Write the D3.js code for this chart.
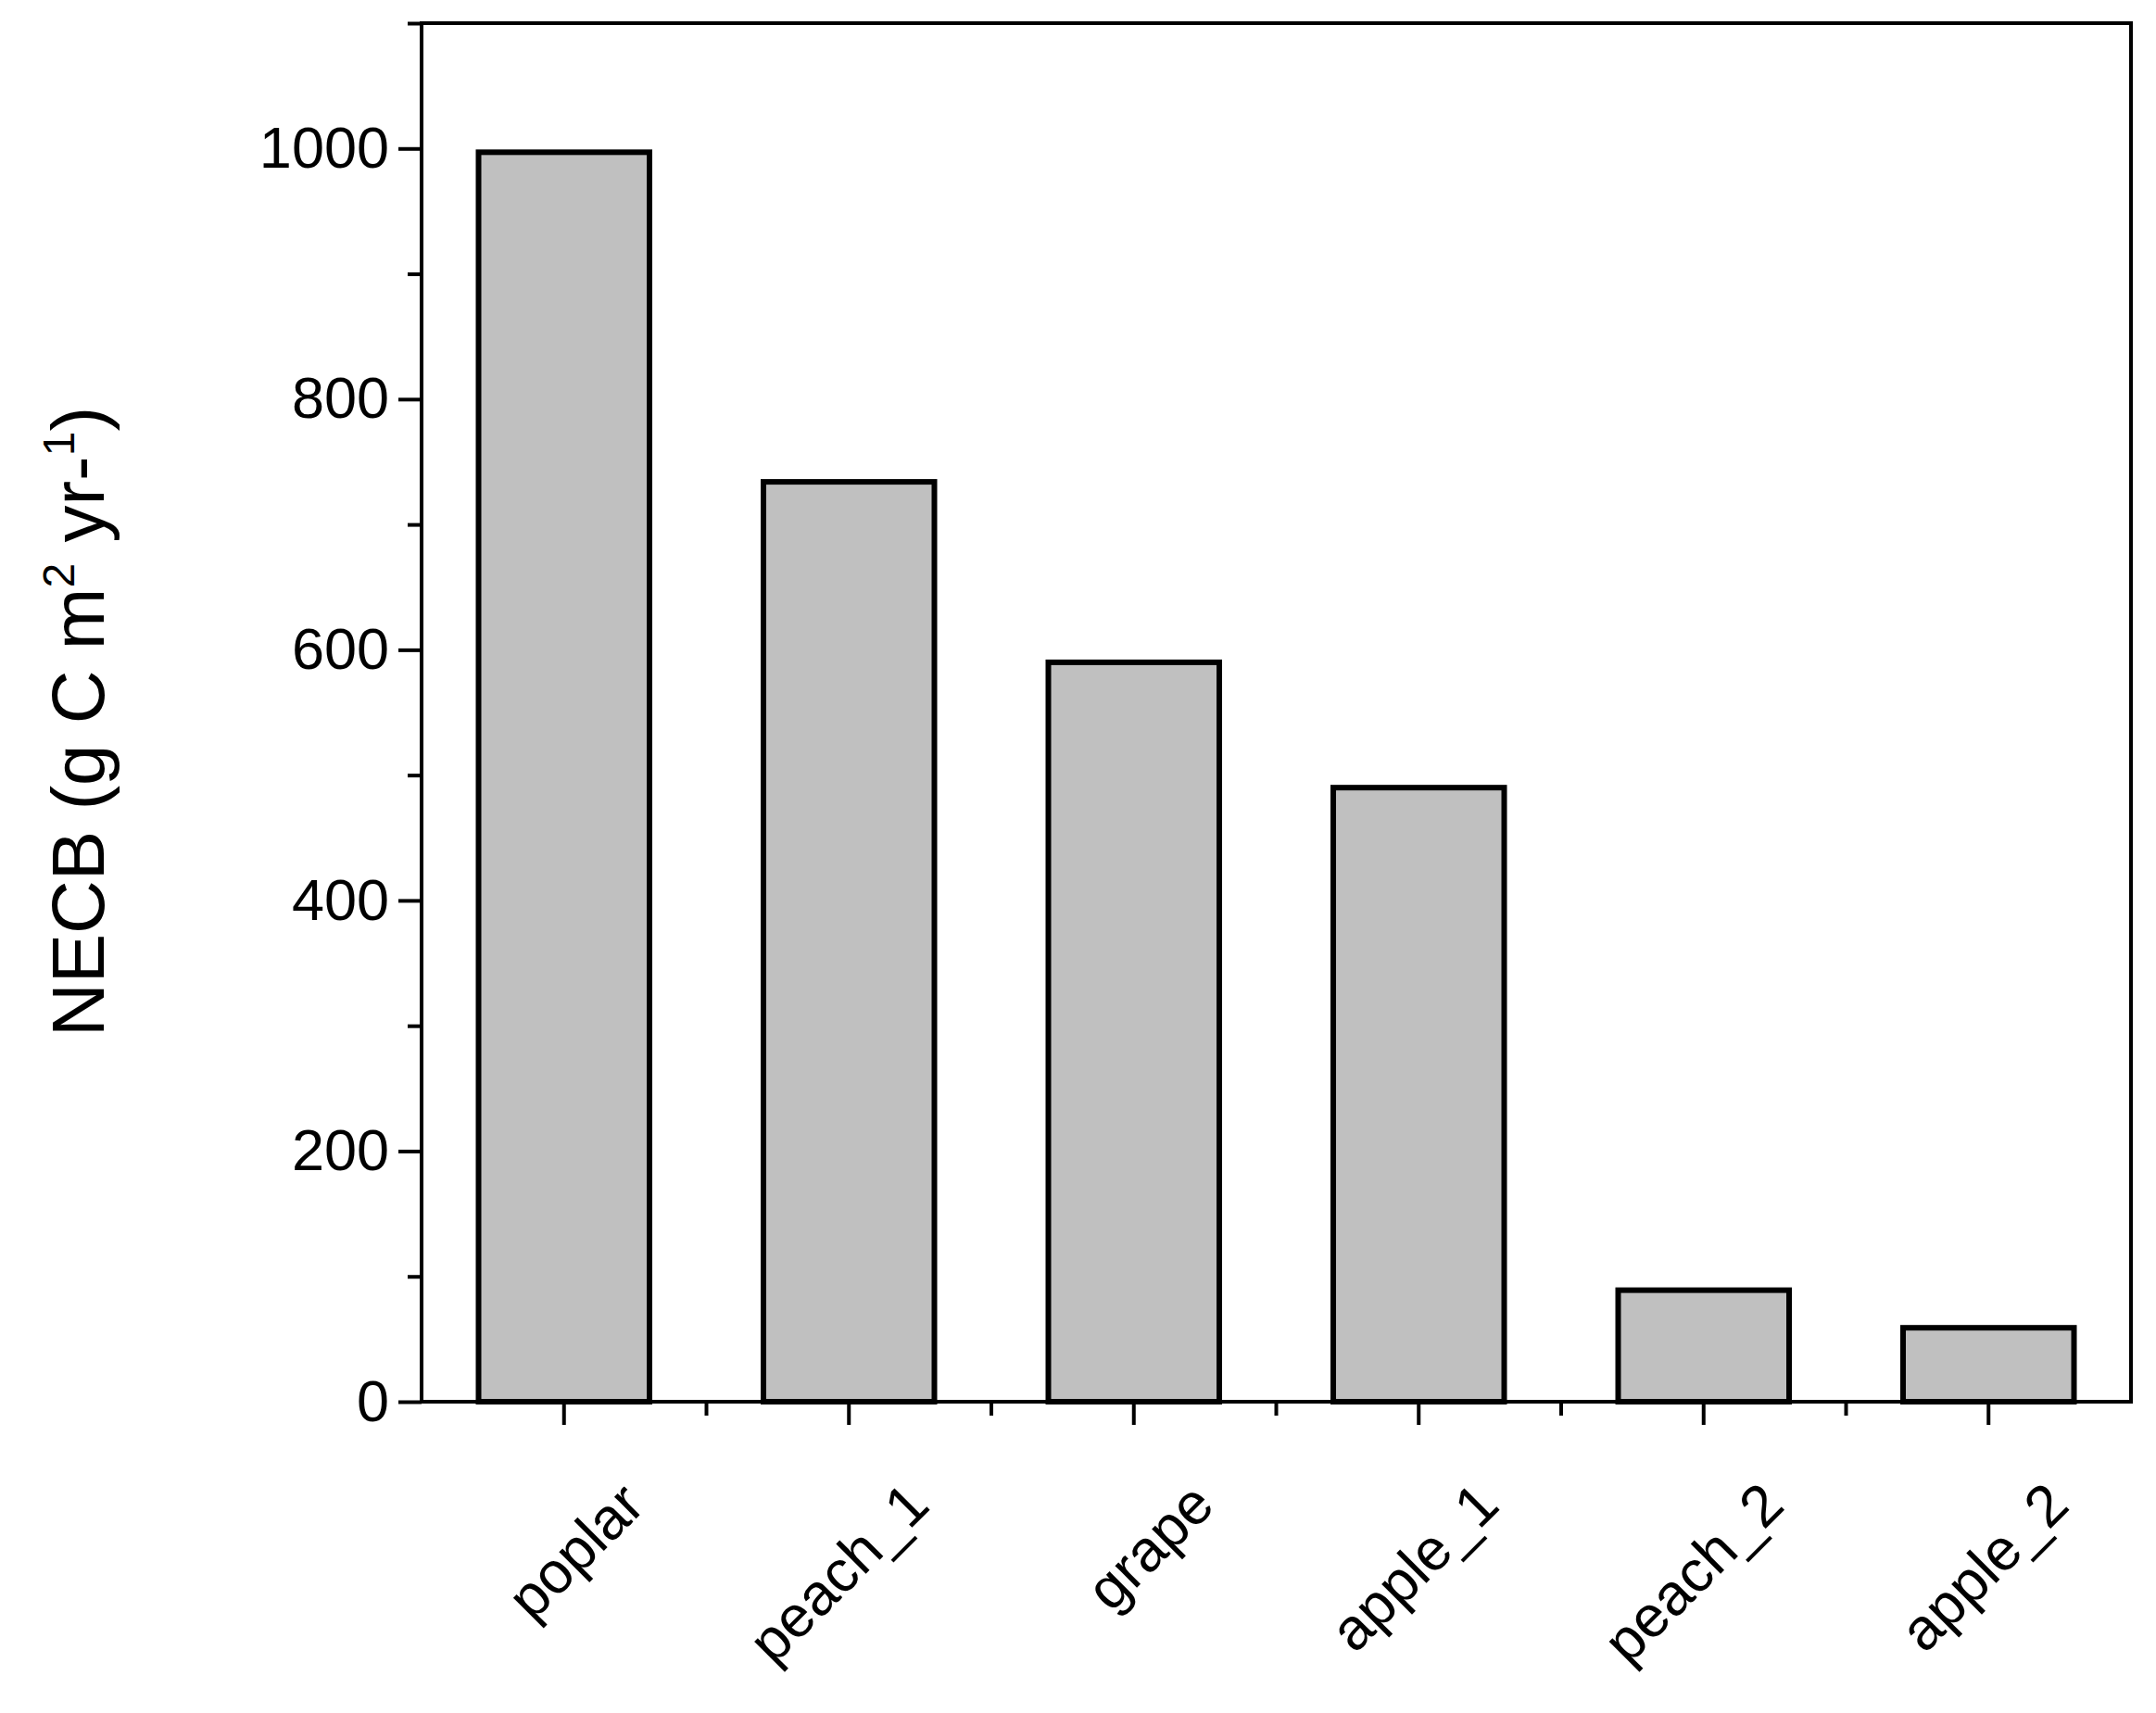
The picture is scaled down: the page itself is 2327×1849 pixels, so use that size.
<!DOCTYPE html><html><head><meta charset="utf-8">
<script src="https://cdn.jsdelivr.net/npm/d3@7"></script>
<style>body{margin:0;background:#fff}text{font-family:"Liberation Sans",Arial,sans-serif}</style></head><body>
<script>
const categories=["poplar","peach_1","grape","apple_1","peach_2","apple_2"];
const values=[997,734,590,490,89,59];
const yTicks=[0,200,400,600,800,1000];
const W=2327,H=1849,L=455,R=2300,T=25,B=1513;
const svg=d3.select("body").append("svg").attr("width",W).attr("height",H);
const x=d3.scaleBand().domain(categories).range([L,R]).paddingInner(0.4).paddingOuter(0.2);
const xb=d3.scaleBand().domain(categories).range([L,R]);
const y=d3.scaleLinear().domain([0,1100]).range([B,T]);
svg.selectAll("rect.bar").data(values).enter().append("rect")
 .attr("x",(d,i)=>x(categories[i])).attr("width",x.bandwidth())
 .attr("y",d=>y(d)).attr("height",d=>y(0)-y(d))
 .attr("fill","#c0c0c0").attr("stroke","#000").attr("stroke-width",6);
svg.append("rect").attr("x",L).attr("y",T).attr("width",R-L).attr("height",B-T).attr("fill","none").attr("stroke","#000").attr("stroke-width",4);
// y axis
const ya=svg.append("g").attr("transform",`translate(${L},0)`).call(d3.axisLeft(y).tickValues(yTicks).tickSize(25).tickPadding(10).tickFormat(d3.format("d")));
ya.select(".domain").remove();
ya.selectAll("line").attr("stroke-width",4);
ya.selectAll("text").attr("font-size",63).attr("fill","#000");
const ym=svg.append("g").attr("transform",`translate(${L},0)`).call(d3.axisLeft(y).tickValues([100,300,500,700,900,1100]).tickSize(15).tickFormat(""));
ym.select(".domain").remove();ym.selectAll("line").attr("stroke-width",4);
// x axis
const xa=svg.append("g").attr("transform",`translate(0,${B})`).call(d3.axisBottom(x).tickSize(25).tickPadding(30));
xa.select(".domain").remove();xa.selectAll("line").attr("stroke-width",4);
xa.selectAll("text").attr("font-size",63).attr("fill","#000").attr("text-anchor","end")
 .attr("dy","0.8em").attr("transform","translate(15,40) rotate(-45)");
const xm=svg.append("g").attr("transform",`translate(0,${B})`);
xm.selectAll("line").data(categories.slice(1)).enter().append("line")
 .attr("x1",d=>xb(d)).attr("x2",d=>xb(d)).attr("y1",0).attr("y2",15).attr("stroke","#000").attr("stroke-width",4);
// title
const t=svg.append("text").attr("transform",`translate(112,${(T+B)/2+10}) rotate(-90)`).attr("text-anchor","middle").attr("font-size",80);
t.append("tspan").text("NECB (g C m");
t.append("tspan").attr("font-size",48).attr("dy",-32).text("2");
t.append("tspan").attr("dy",32).text(" yr-");
t.append("tspan").attr("font-size",48).attr("dy",-32).text("1");
t.append("tspan").attr("dy",32).text(")");
</script></body></html>
